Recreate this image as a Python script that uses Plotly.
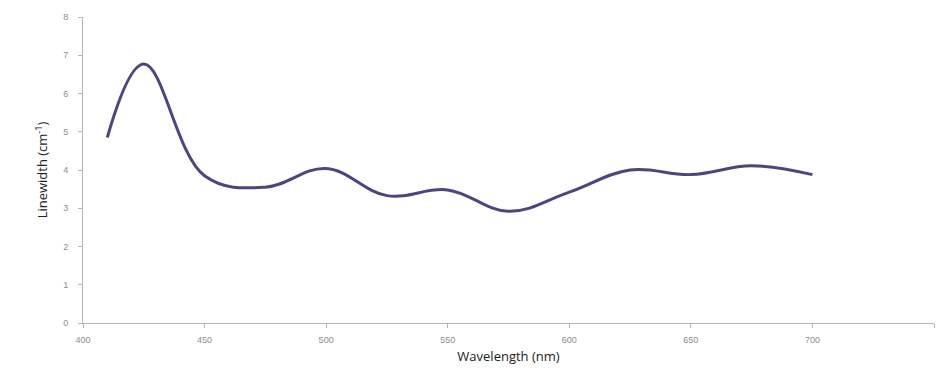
import plotly.graph_objects as go

# Measured linewidth across the visible spectrum
wavelength_nm = [410, 425, 450, 475, 500, 525, 550, 575, 600, 625, 650, 675, 700]
linewidth_cm = [4.85, 6.77, 3.85, 3.55, 4.04, 3.33, 3.48, 2.92, 3.42, 4.00, 3.88, 4.11, 3.88]

x_ticks = [400, 450, 500, 550, 600, 650, 700, 750]
y_ticks = [0, 1, 2, 3, 4, 5, 6, 7, 8]

fig = go.Figure()
fig.add_trace(go.Scatter(
    x=wavelength_nm,
    y=linewidth_cm,
    mode="lines",
    line=dict(color="#4b4682", width=3, shape="spline", smoothing=1.1),
    hoverinfo="x+y",
))

axis_color = "#b4b4b4"
tick_font = dict(family="Liberation Sans, Arial, sans-serif", size=9, color="#8c8c8c")

fig.update_layout(
    width=938,
    height=373,
    margin=dict(l=83, r=4, t=17, b=50),
    paper_bgcolor="white",
    plot_bgcolor="white",
    showlegend=False,
    xaxis=dict(
        range=[400, 750],
        tickvals=x_ticks,
        ticktext=[str(v) for v in x_ticks],
        showgrid=False,
        zeroline=False,
        showline=True,
        linecolor=axis_color,
        linewidth=1,
        ticks="outside",
        ticklen=4,
        tickcolor=axis_color,
        tickfont=tick_font,
        ticklabelstandoff=4,
        title=dict(text="Wavelength (nm)", font=dict(family="Open Sans, sans-serif", size=13, color="#222222"), standoff=8),
    ),
    yaxis=dict(
        range=[0, 8],
        tickvals=y_ticks,
        showgrid=False,
        zeroline=False,
        showline=True,
        linecolor=axis_color,
        linewidth=1,
        ticks="outside",
        ticklen=4,
        tickcolor=axis_color,
        tickfont=tick_font,
        ticklabelstandoff=8,
        title=dict(text="Linewidth (cm<sup>-1</sup>)", font=dict(family="Open Sans, sans-serif", size=13, color="#222222"), standoff=12),
    ),
)

fig.write_html("out.html")
